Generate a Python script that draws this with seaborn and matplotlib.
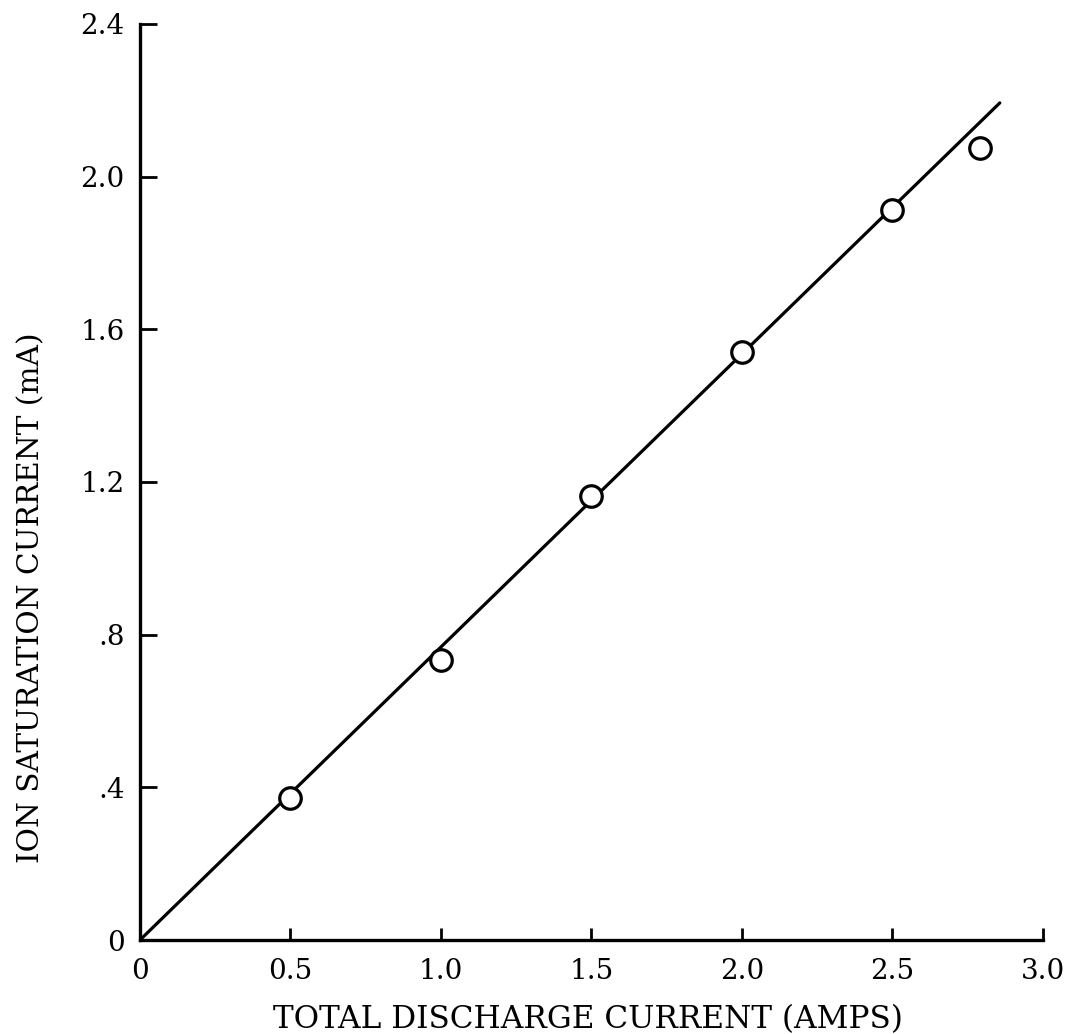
import numpy
import pandas
from matplotlib import pyplot as plt
import seaborn

seaborn.set_style('white', {'xtick.direction': 'in', 'ytick.direction': 'in'})
plt.rcParams['font.family'] = ['DejaVu Serif']

#%% data
discharge_amps = [0.5, 1.0, 1.5, 2.0, 2.5, 2.79]
ion_current_ma = [0.372, 0.734, 1.163, 1.54, 1.912, 2.075]

# straight fitted line through the origin
fit_x = [0.0, 2.857]
fit_y = [0.0, 2.193]

x_ticks = [0, 0.5, 1.0, 1.5, 2.0, 2.5, 3.0]
x_tick_labels = ['0', '0.5', '1.0', '1.5', '2.0', '2.5', '3.0']
y_ticks = [0, 0.4, 0.8, 1.2, 1.6, 2.0, 2.4]
y_tick_labels = ['0', '.4', '.8', '1.2', '1.6', '2.0', '2.4']

points = pandas.DataFrame({'amps': discharge_amps, 'ma': ion_current_ma})
fit = pandas.DataFrame({'amps': fit_x, 'ma': fit_y})

W, H = 1071, 1034

#%% plot
fig = plt.figure(figsize=(W / 100, H / 100), dpi=100)
ax = fig.add_axes([0.1307, 0.0909, 0.843, 0.886])

seaborn.lineplot(data=fit, x='amps', y='ma', color='black', linewidth=2.3, ax=ax)
seaborn.scatterplot(data=points, x='amps', y='ma', marker='o', s=240,
                    facecolor='white', edgecolor='black', linewidth=2.3,
                    zorder=3, ax=ax)

ax.set_xlim(0, 3.0)
ax.set_ylim(0, 2.4)
ax.set_xticks(x_ticks)
ax.set_xticklabels(x_tick_labels)
ax.set_yticks(y_ticks)
ax.set_yticklabels(y_tick_labels)

for side in ['top', 'right']:
    ax.spines[side].set_visible(False)
for side in ['left', 'bottom']:
    ax.spines[side].set_linewidth(2.4)
    ax.spines[side].set_color('black')

ax.tick_params(axis='x', bottom=True, direction='in', length=9, width=2, pad=13,
               labelsize=20, color='black', labelcolor='black')
ax.tick_params(axis='y', left=True, direction='in', length=12, width=2, pad=11,
               labelsize=20, color='black', labelcolor='black')

ax.set_xlabel('TOTAL DISCHARGE CURRENT (AMPS)', fontsize=21, color='black')
ax.set_ylabel('ION SATURATION CURRENT (mA)', fontsize=21, color='black')

# size the axis titles to the span they take in the scan (pixels)
fig.canvas.draw()
renderer = fig.canvas.get_renderer()
xl, yl = ax.xaxis.label, ax.yaxis.label
xl.set_fontsize(21 * 628 / xl.get_window_extent(renderer).width)
yl.set_fontsize(21 * 530 / yl.get_window_extent(renderer).height)
xl.set_va('baseline')
yl.set_va('baseline')

box = ax.get_window_extent(renderer)
def to_axes(px, py):
    return (px - box.x0) / box.width, ((H - py) - box.y0) / box.height

ax.xaxis.set_label_coords(*to_axes(588, 1028))
ax.yaxis.set_label_coords(*to_axes(39, 598))

plt.savefig('out.png', dpi=100)
